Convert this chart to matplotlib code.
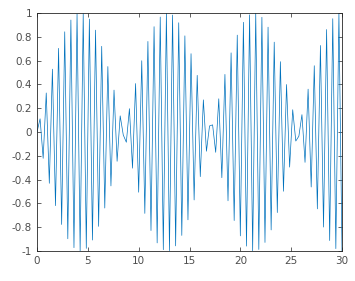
import numpy as np
import matplotlib
matplotlib.use("Agg")
import matplotlib.pyplot as plt

# 100 evenly spaced samples over [0, 30]
t_start, t_end, n_samples = 0, 30, 100
y_values = [0.000, 0.111, -0.221, 0.328, -0.431, 0.528, -0.619, 0.703, -0.777, 0.842,
            -0.897, 0.941, -0.972, 0.992, -1.000, 0.995, -0.978, 0.949, -0.908, 0.856,
            -0.793, 0.720, -0.639, 0.550, -0.453, 0.352, -0.246, 0.136, -0.025, -0.086,
            0.196, -0.304, 0.407, -0.506, 0.599, -0.684, 0.761, -0.828, 0.885, -0.932,
            0.966, -0.989, 0.999, -0.997, 0.983, -0.957, 0.918, -0.869, 0.808, -0.738,
            0.658, -0.571, 0.476, -0.375, 0.270, -0.162, 0.051, 0.060, -0.171, 0.279,
            -0.384, 0.484, -0.578, 0.665, -0.744, 0.814, -0.873, 0.922, -0.959, 0.985,
            -0.998, 0.999, -0.987, 0.964, -0.928, 0.881, -0.823, 0.755, -0.677, 0.591,
            -0.498, 0.399, -0.295, 0.187, -0.076, -0.035, 0.146, -0.255, 0.360, -0.462,
            0.557, -0.646, 0.727, -0.799, 0.861, -0.912, 0.952, -0.980, 0.996, -1.000]

xticks = [0, 5, 10, 15, 20, 25, 30]
yticks = [-1, -0.8, -0.6, -0.4, -0.2, 0, 0.2, 0.4, 0.6, 0.8, 1]
ylabels = ["-1", "-0.8", "-0.6", "-0.4", "-0.2", "0", "0.2", "0.4", "0.6", "0.8", "1"]

t = np.linspace(t_start, t_end, n_samples)

fig = plt.figure(figsize=(3.55, 2.81), dpi=100)
ax = fig.add_axes([37/355, 30/281, 305/355, 238/281])
ax.plot(t, y_values, color="#0072BD", linewidth=0.5)
ax.set_xlim(0, 30)
ax.set_ylim(-1, 1)
ax.set_xticks(xticks)
ax.set_xticklabels([str(v) for v in xticks])
ax.set_yticks(yticks)
ax.set_yticklabels(ylabels)
ax.tick_params(direction="in", length=3, width=0.5, colors="#262626", labelsize=7.5,
               top=True, right=True, labelcolor="#4d4d4d")
for s in ax.spines.values():
    s.set_linewidth(0.6)
    s.set_color("#262626")
fig.savefig("out.png", dpi=100)
